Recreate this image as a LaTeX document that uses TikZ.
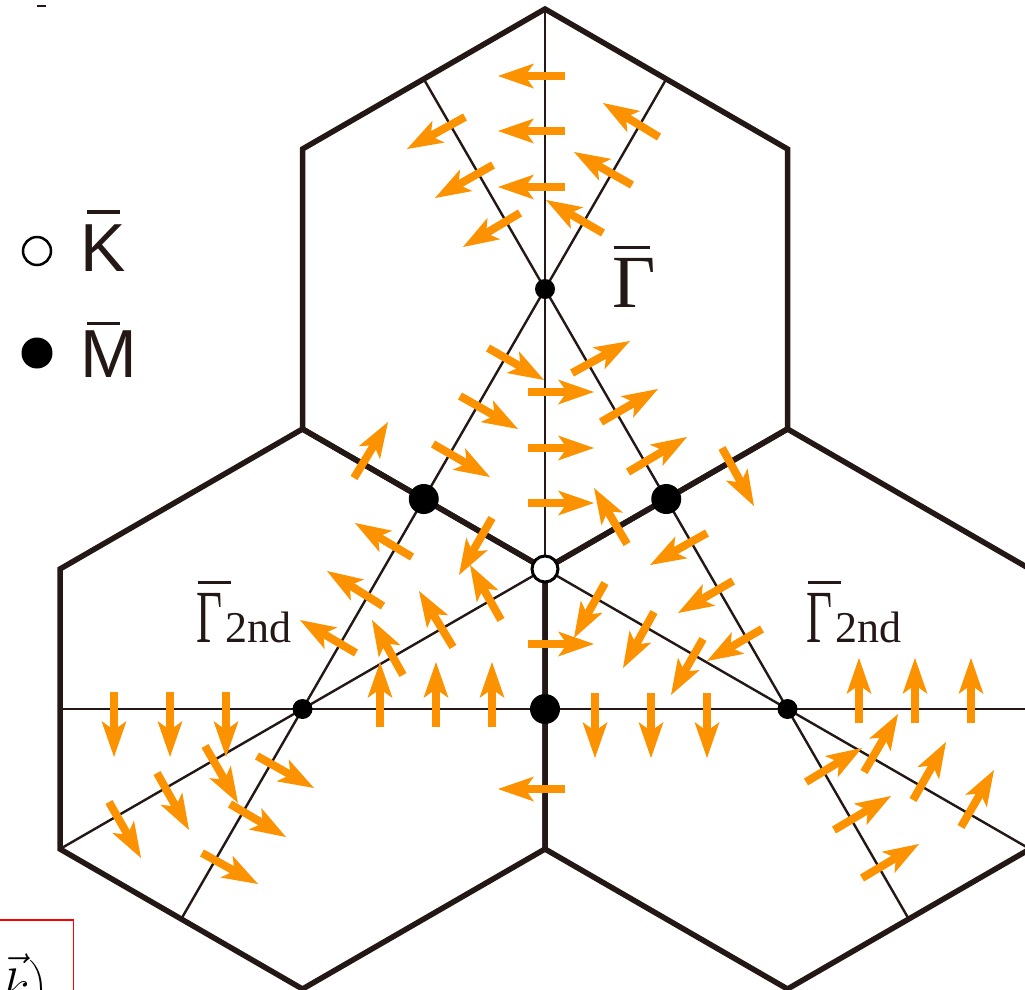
\RequirePackage{fix-cm}
\documentclass[tikz,border=0pt]{standalone}
\usepackage{amsmath}
\usepackage{fontspec}
\setmainfont{Liberation Serif}
\newfontfamily\labsans{Liberation Sans}
\usepackage{graphicx}
\usetikzlibrary{arrows.meta}
\definecolor{edgec}{RGB}{35,24,21}
\definecolor{spinc}{RGB}{253,146,0}
\tikzset{
  hexedge/.style={draw=edgec, line width=5.5pt, line join=miter},
  thinline/.style={draw=edgec, line width=2.4pt},
  spin/.style={draw=spinc, line width=8pt, -{Stealth[length=36pt,width=25pt,inset=9pt,line width=0pt]}},
  smalldot/.style={circle, fill=black, minimum size=20pt, inner sep=0pt},
  bigdot/.style={circle, fill=black, minimum size=30pt, inner sep=0pt},
  opendot/.style={circle, draw=black, fill=white, line width=3pt, minimum size=26pt, inner sep=0pt},
  legopen/.style={circle, draw=black, fill=white, line width=2.5pt, minimum size=28pt, inner sep=0pt},
  legfull/.style={circle, fill=black, minimum size=31pt, inner sep=0pt},
  lab/.style={inner sep=0pt, anchor=base west, text=edgec},
}
\begin{document}
\begin{tikzpicture}[x=1pt,y=-1pt]
\useasboundingbox (0,0) rectangle (1025,989);
\clip (0,0) rectangle (1025,989);
\fill[white] (0,0) rectangle (1025,989);
% hexagon geometry
\coordinate (G)  at (545,289);
\coordinate (T1) at (545,9);
\coordinate (T2) at (787.5,149);
\coordinate (T3) at (787.5,429);
\coordinate (K)  at (545,569);
\coordinate (T5) at (302.5,429);
\coordinate (T6) at (302.5,149);
\coordinate (L)  at (302.5,709);
\coordinate (B1) at (545,849);
\coordinate (L4) at (302.5,989);
\coordinate (L5) at (60,849);
\coordinate (L6) at (60,569);
\coordinate (Rc) at (787.5,709);
\coordinate (R2) at (1030,569);
\coordinate (R3) at (1030,849);
\coordinate (R4) at (787.5,989);
\coordinate (M1) at (423.75,499);
\coordinate (M2) at (666.25,499);
\coordinate (M3) at (545,709);
\coordinate (E1) at (423.75,79);
\coordinate (E2) at (666.25,79);
\coordinate (E3) at (181.25,919);
\coordinate (E4) at (908.75,919);
\coordinate (H1) at (60,709);
\coordinate (H2) at (1030,709);
% thin lines
\draw[thinline] (E1) -- (E4);
\draw[thinline] (E2) -- (E3);
\draw[thinline] (T1) -- (K);
\draw[thinline] (H1) -- (H2);
\draw[thinline] (L5) -- (K);
\draw[thinline] (K) -- (R3);
% hexagons
\draw[hexedge] (T1) -- (T2) -- (T3) -- (K) -- (T5) -- (T6) -- cycle;
\draw[hexedge] (T5) -- (K) -- (B1) -- (L4) -- (L5) -- (L6) -- cycle;
\draw[hexedge] (T3) -- (R2) -- (R3) -- (R4) -- (B1) -- (K) -- cycle;
% spin arrows
\foreach \xa/\ya/\xb/\yb in {
  565/76/498/76, 565/131/498/131, 565/187/498/187,
  465/117/407/149, 493/165/435/198, 520/213/463/247,
  659/137/603/103, 632/185/574/152, 603/233/546/200,
  488/348/544/380, 460/396/518/429, 433/444/490/477,
  572/373/630/341, 601/422/658/389, 628/472/687/437,
  528/392/594/392, 528/448/594/448, 528/503/594/503, 528/644/594/644,
  354/478/388/422, 722/448/754/506, 627/544/594/488, 492/518/459/575,
  412/557/355/523, 383/606/327/571, 356/653/300/620,
  403/675/372/620, 453/647/419/591, 501/620/470/565,
  380/727/380/662, 436/727/436/662, 492/727/492/662,
  605/583/574/638, 654/612/623/668, 703/639/671/695,
  707/533/650/565, 733/581/678/613, 762/629/707/661,
  595/693/595/758, 651/693/651/758, 707/693/707/758,
  565/789/498/789,
  114/692/114/757, 170/692/170/757, 226/692/226/757,
  109/802/141/858, 157/773/189/830, 205/746/238/803,
  257/756/314/788, 230/804/286/837, 202/853/258/884,
  859/723/859/658, 915/723/915/658, 971/723/971/658,
  806/782/862/748, 834/830/891/796, 862/878/919/844,
  864/772/898/714, 913/800/946/742, 961/827/994/770}
  \draw[spin] (\xa,\ya) -- (\xb,\yb);
% points
\node[smalldot] (nG) at (G) {};
\node[smalldot] (nL) at (L) {};
\node[smalldot] (nR) at (Rc) {};
\node[bigdot] (nM1) at (M1) {};
\node[bigdot] (nM2) at (M2) {};
\node[bigdot] (nM3) at (M3) {};
\node[opendot] (nK) at (K) {};
% labels
\node[lab] (labG) at (612,307) {\fontsize{75}{75}\selectfont\rlap{\hspace*{0.02em}\rule[0.78em]{0.49em}{0.04em}}Γ};
\node[lab] (labL) at (196,642) {\fontsize{75}{75}\selectfont\rlap{\hspace*{0.02em}\rule[0.77em]{0.44em}{0.04em}}\scalebox{0.6}[1]{Γ}\kern3pt\fontsize{44}{44}\selectfont 2nd};
\node[lab] (labR) at (806,642) {\fontsize{75}{75}\selectfont\rlap{\hspace*{0.02em}\rule[0.77em]{0.44em}{0.04em}}\scalebox{0.6}[1]{Γ}\kern3pt\fontsize{44}{44}\selectfont 2nd};
% legend
\node[legopen] (legK) at (37,251) {};
\node[legfull] (legM) at (37,353) {};
\node[lab] (labK) at (80,271) {\labsans\fontsize{68}{68}\selectfont\rlap{\hspace*{0.1em}\rule[0.845em]{0.485em}{0.045em}}K};
\node[lab] (labM) at (80,377) {\labsans\fontsize{68}{68}\selectfont\rlap{\hspace*{0.1em}\rule[0.76em]{0.485em}{0.045em}}M};
% cropped remnants at the edges
\draw[edgec, line width=2.5pt] (37,6) -- (46,6);
\node[draw=red, line width=1.5pt, minimum width=80pt, minimum height=90pt, anchor=north east, inner sep=0pt] (redbox) at (74,919) {};
\node[lab, text=black] (ktext) at (2,1003) {\fontsize{50}{50}\selectfont$\vec{k}\bigr)$};
\end{tikzpicture}
\end{document}
